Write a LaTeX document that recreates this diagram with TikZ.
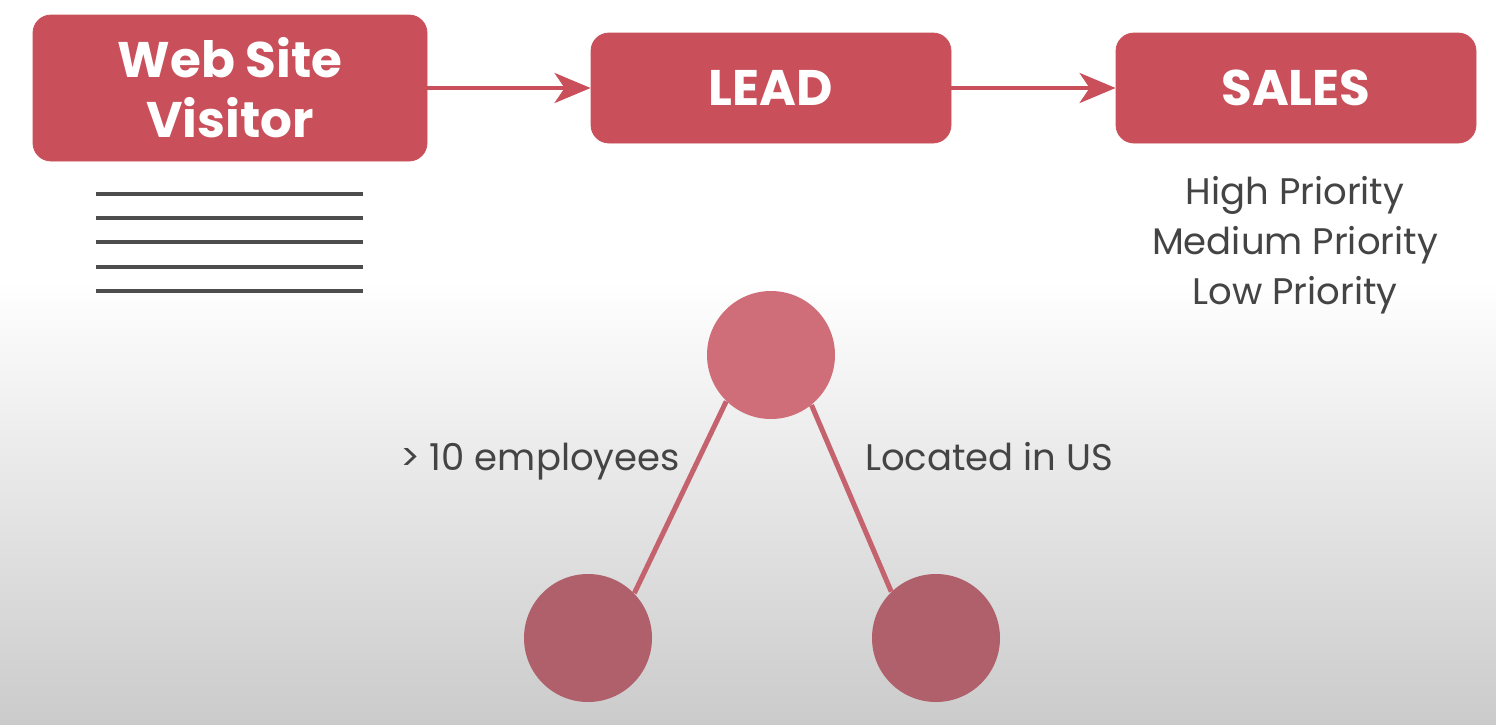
\documentclass[tikz,border=0pt]{standalone}
\usepackage{fontspec}
\setmainfont{Poppins}
\usetikzlibrary{arrows.meta}
\definecolor{boxred}{HTML}{C9505A}
\definecolor{topcirc}{HTML}{CF6E79}
\definecolor{botcirc}{HTML}{B0606A}
\definecolor{edgecol}{HTML}{C4626D}
\definecolor{txtgray}{HTML}{444444}
\definecolor{bglow}{HTML}{CBCBCB}
\tikzset{
  box/.style={draw=boxred, fill=boxred, rounded corners=9pt, text=white, inner sep=0pt,
    align=center, font=\fontsize{25}{30}\selectfont\bfseries},
  flowarrow/.style={draw=boxred, line width=2pt, -{Stealth[length=18pt, width=15pt, inset=5pt]}},
  bar/.style={draw=txtgray!95, line width=2pt},
  lbl/.style={text=txtgray, inner sep=0pt, font=\fontsize{18.5}{25}\selectfont},
  treenode/.style={circle, inner sep=0pt, minimum size=64pt},
  treeedge/.style={draw=edgecol, line width=2.5pt}
}
\begin{document}
\begin{tikzpicture}[x=0.5pt,y=-0.5pt]
\useasboundingbox (0,0) rectangle (1496,724);
\fill[white] (0,0) rectangle (1496,281);
\shade[top color=white, bottom color=bglow] (0,280) rectangle (1496,724);

% flow boxes
\node[box, minimum width=197pt, minimum height=73pt] (web) at (230,88) {Web Site\\Visitor};
\node[box, minimum width=180pt, minimum height=55pt] (lead) at (771,88) {LEAD};
\node[box, minimum width=180pt, minimum height=55pt] (sales) at (1296,88) {SALES};
\draw[flowarrow] (web.east) -- (lead.west);
\draw[flowarrow] (lead.east) -- (sales.west);

% list lines
\foreach \yy in {194,218,242,267,291} {
  \draw[bar] (96,\yy) -- (363,\yy);
}

% priorities
\node[lbl, align=center, anchor=base] (prio) at (1295,304) {High Priority\\Medium Priority\\Low Priority};

% tree
\node[treenode, fill=topcirc] (root) at (771,355) {};
\node[treenode, fill=botcirc] (left) at (588,638) {};
\node[treenode, fill=botcirc] (right) at (936,638) {};
\draw[treeedge] (root.226.9) -- (left.44.4);
\draw[treeedge] (root.309.4) -- (right.134.4);
\node[lbl, anchor=base] (lab1) at (540,470) {> 10 employees};
\node[lbl, anchor=base] (lab2) at (989,470) {Located in US};
\end{tikzpicture}
\end{document}
